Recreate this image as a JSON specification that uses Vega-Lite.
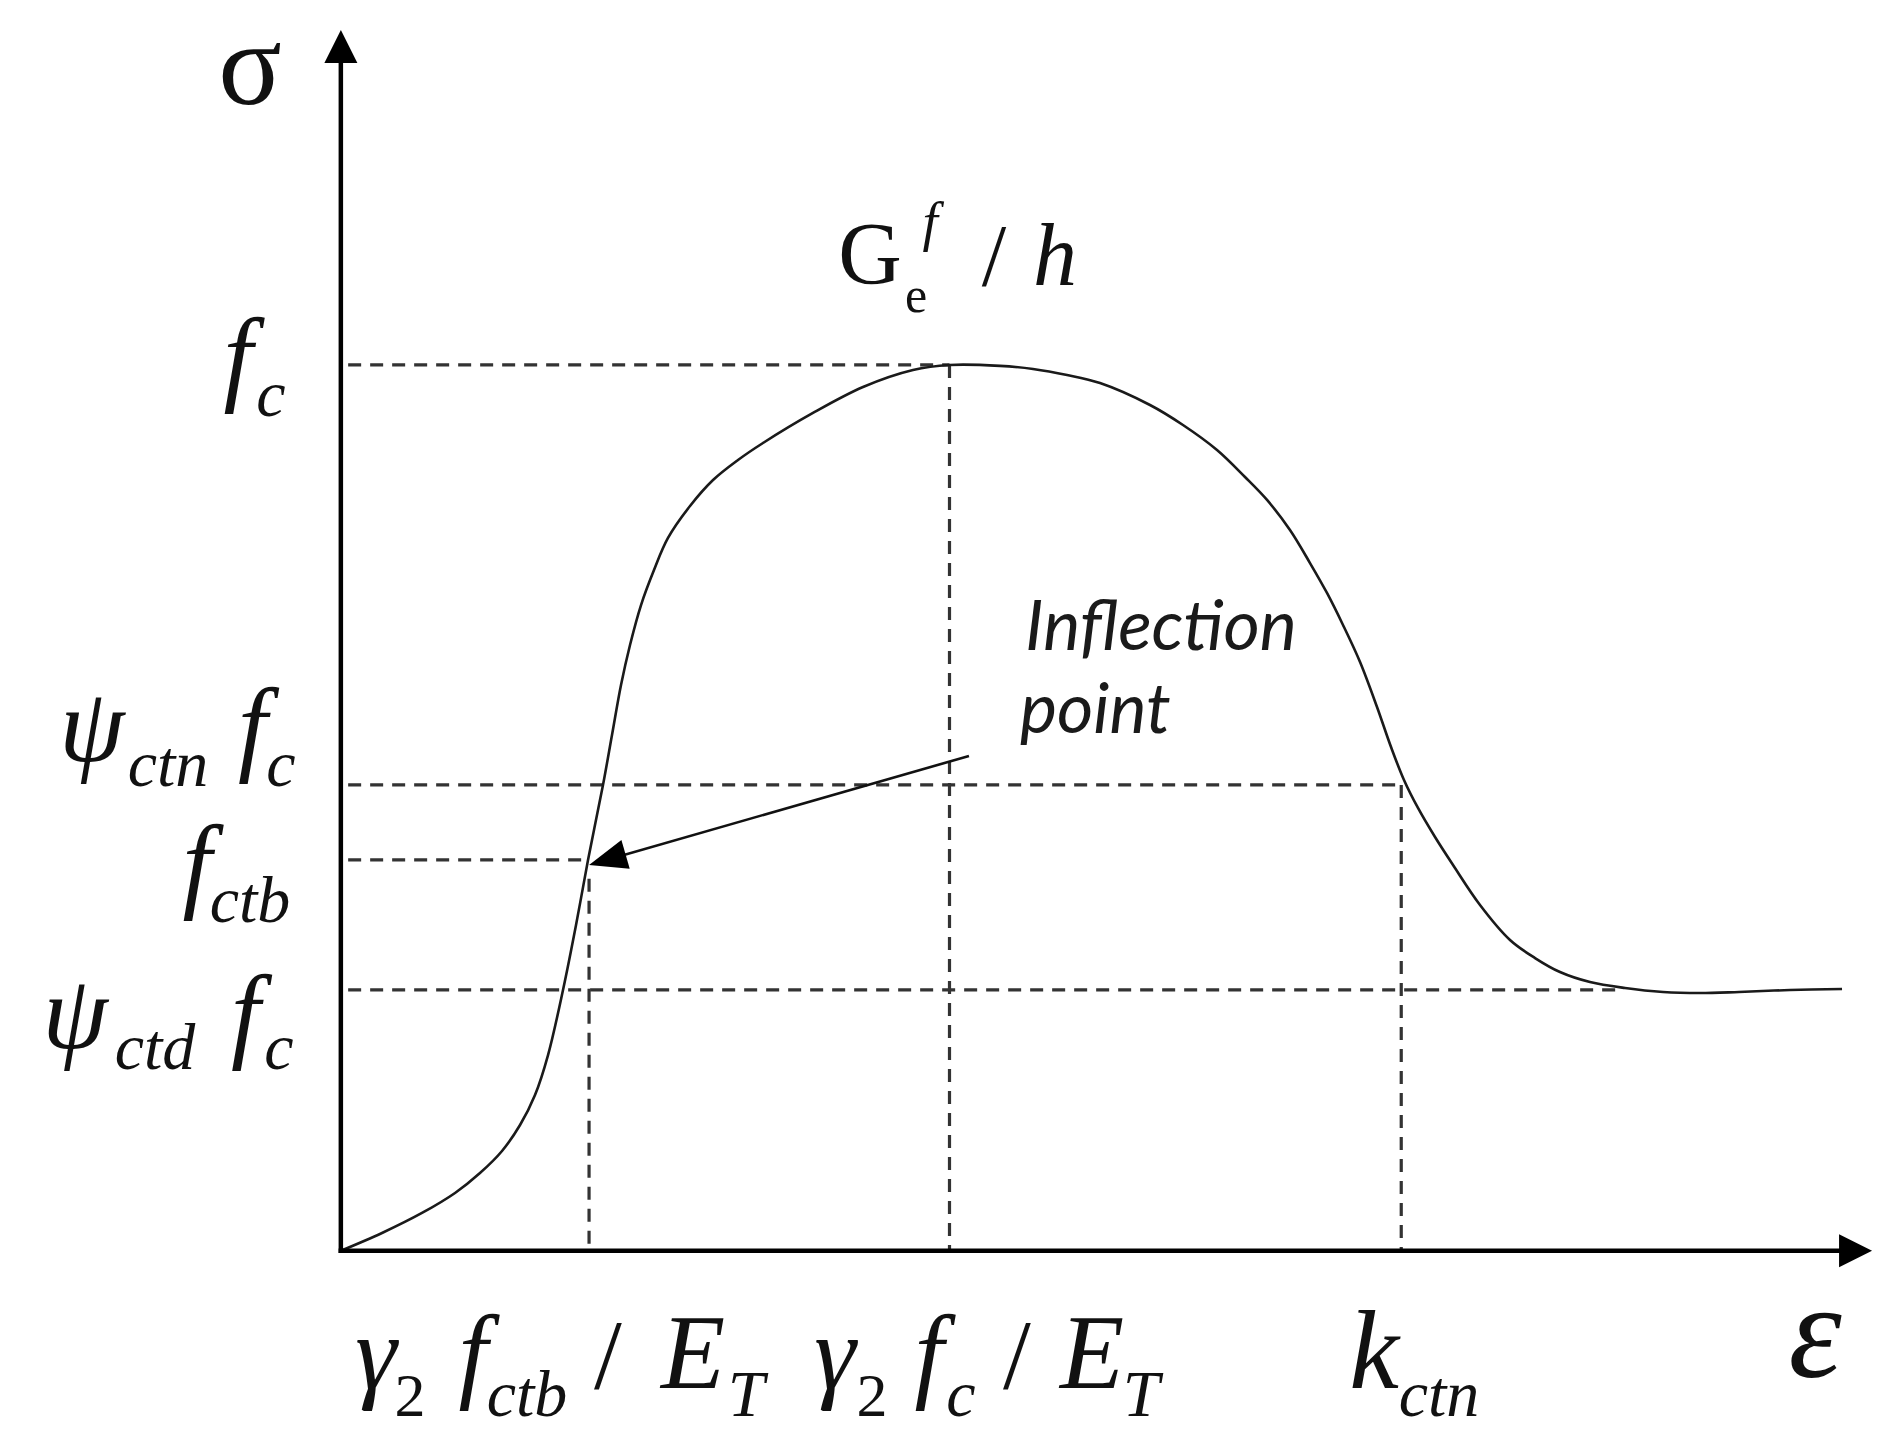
{
  "$schema": "https://vega.github.io/schema/vega-lite/v6.json",
  "width": 1899,
  "height": 1451,
  "autosize": {"type": "fit", "contains": "padding"},
  "padding": 0,
  "background": "white",
  "config": {"view": {"stroke": null}},
  "datasets": {
    "curve": [
      {"eps": 0, "sigma": 0},
      {"eps": 0.0676, "sigma": 0.0201},
      {"eps": 0.1333, "sigma": 0.0427},
      {"eps": 0.1876, "sigma": 0.0653},
      {"eps": 0.2286, "sigma": 0.0878},
      {"eps": 0.2648, "sigma": 0.1127},
      {"eps": 0.2944, "sigma": 0.142},
      {"eps": 0.319, "sigma": 0.1759},
      {"eps": 0.3404, "sigma": 0.221},
      {"eps": 0.365, "sigma": 0.2944},
      {"eps": 0.3864, "sigma": 0.3678},
      {"eps": 0.4061, "sigma": 0.4412},
      {"eps": 0.4307, "sigma": 0.5258},
      {"eps": 0.4455, "sigma": 0.5823},
      {"eps": 0.4603, "sigma": 0.6387},
      {"eps": 0.4751, "sigma": 0.6839},
      {"eps": 0.4932, "sigma": 0.729},
      {"eps": 0.5145, "sigma": 0.7685},
      {"eps": 0.5375, "sigma": 0.8047},
      {"eps": 0.5737, "sigma": 0.8408},
      {"eps": 0.6115, "sigma": 0.8701},
      {"eps": 0.6525, "sigma": 0.8927},
      {"eps": 0.6936, "sigma": 0.9119},
      {"eps": 0.7757, "sigma": 0.9458},
      {"eps": 0.8579, "sigma": 0.9751},
      {"eps": 0.94, "sigma": 0.9943},
      {"eps": 1.0, "sigma": 1.0},
      {"eps": 1.083, "sigma": 0.999},
      {"eps": 1.1372, "sigma": 0.9955},
      {"eps": 1.1931, "sigma": 0.9887},
      {"eps": 1.2473, "sigma": 0.9796},
      {"eps": 1.3294, "sigma": 0.9548},
      {"eps": 1.3836, "sigma": 0.9322},
      {"eps": 1.4395, "sigma": 0.904},
      {"eps": 1.4855, "sigma": 0.8735},
      {"eps": 1.5217, "sigma": 0.8476},
      {"eps": 1.5594, "sigma": 0.8137},
      {"eps": 1.5923, "sigma": 0.7764},
      {"eps": 1.6202, "sigma": 0.7426},
      {"eps": 1.6465, "sigma": 0.7065},
      {"eps": 1.6745, "sigma": 0.6647},
      {"eps": 1.7024, "sigma": 0.6139},
      {"eps": 1.7254, "sigma": 0.5687},
      {"eps": 1.7467, "sigma": 0.5315},
      {"eps": 1.7697, "sigma": 0.4999},
      {"eps": 1.7977, "sigma": 0.4671},
      {"eps": 1.8273, "sigma": 0.4355},
      {"eps": 1.8716, "sigma": 0.3904},
      {"eps": 1.9209, "sigma": 0.3509},
      {"eps": 1.962, "sigma": 0.3305},
      {"eps": 2.003, "sigma": 0.3147},
      {"eps": 2.0523, "sigma": 0.3034},
      {"eps": 2.1098, "sigma": 0.2967},
      {"eps": 2.1723, "sigma": 0.2922},
      {"eps": 2.2331, "sigma": 0.291},
      {"eps": 2.2971, "sigma": 0.2922},
      {"eps": 2.3809, "sigma": 0.2944},
      {"eps": 2.4664, "sigma": 0.2956}
    ],
    "guides": [
      {"eps": 0.012, "sigma": 1.0, "eps2": 1.0, "sigma2": 1.0},
      {"eps": 0.012, "sigma": 0.5259, "eps2": 1.7422, "sigma2": 0.5259},
      {"eps": 0.012, "sigma": 0.4412, "eps2": 0.4078, "sigma2": 0.4412},
      {"eps": 0.012, "sigma": 0.2945, "eps2": 2.1, "sigma2": 0.2945},
      {"eps": 0.4078, "sigma": 0.42, "eps2": 0.4078, "sigma2": 0},
      {"eps": 1.0, "sigma": 1.0, "eps2": 1.0, "sigma2": 0},
      {"eps": 1.7422, "sigma": 0.5259, "eps2": 1.7422, "sigma2": 0}
    ],
    "axes": [
      {"eps": 0, "sigma": 0, "eps2": 2.48, "sigma2": 0},
      {"eps": 0, "sigma": 0, "eps2": 0, "sigma2": 1.35}
    ],
    "pointer": [
      {"eps": 1.032, "sigma": 0.5586, "eps2": 0.4378, "sigma2": 0.4415}
    ],
    "arrowUp": [{"eps": 0, "sigma": 1.3596}],
    "arrowRight": [{"eps": 2.4886, "sigma": 0}],
    "pointerHead": [{"eps": 0.4378, "sigma": 0.4415}],
    "mathMain": [
      {"eps": -0.169, "sigma": 0.9706, "t": "f"},
      {"eps": -0.4089, "sigma": 0.5529, "t": "ψ"},
      {"eps": -0.1452, "sigma": 0.5529, "t": "f"},
      {"eps": -0.2363, "sigma": 0.3983, "t": "f"},
      {"eps": -0.4368, "sigma": 0.2289, "t": "ψ"},
      {"eps": -0.1567, "sigma": 0.2289, "t": "f"},
      {"eps": 0.0578, "sigma": -0.1549, "t": "γ"},
      {"eps": 0.2171, "sigma": -0.1549, "t": "f"},
      {"eps": 0.5786, "sigma": -0.1549, "t": "E"},
      {"eps": 0.8119, "sigma": -0.1549, "t": "γ"},
      {"eps": 0.9663, "sigma": -0.1549, "t": "f"},
      {"eps": 1.2341, "sigma": -0.1549, "t": "E"}
    ],
    "mathK": [{"eps": 1.6975, "sigma": -0.1549, "t": "k"}],
    "mathSub": [
      {"eps": -0.1148, "sigma": 0.9424, "t": "c"},
      {"eps": -0.284, "sigma": 0.5247, "t": "ctn"},
      {"eps": -0.0983, "sigma": 0.5247, "t": "c"},
      {"eps": -0.1493, "sigma": 0.3712, "t": "ctb"},
      {"eps": -0.3053, "sigma": 0.2052, "t": "ctd"},
      {"eps": -0.1016, "sigma": 0.2052, "t": "c"},
      {"eps": 0.3059, "sigma": -0.1865, "t": "ctb"},
      {"eps": 0.6657, "sigma": -0.1865, "t": "T"},
      {"eps": 1.0189, "sigma": -0.1865, "t": "c"},
      {"eps": 1.315, "sigma": -0.1865, "t": "T"},
      {"eps": 1.8043, "sigma": -0.1865, "t": "ctn"}
    ],
    "subUpright": [
      {"eps": 0.1136, "sigma": -0.1865, "t": "2"},
      {"eps": 0.8727, "sigma": -0.1865, "t": "2"}
    ],
    "slash": [
      {"eps": 0.4389, "sigma": -0.1549, "t": "/"},
      {"eps": 1.1109, "sigma": -0.1549, "t": "/"}
    ],
    "sigmaSym": [{"eps": -0.1493, "sigma": 1.2945, "t": "σ"}],
    "epsSym": [{"eps": 2.422, "sigma": -0.1425, "t": "ε"}],
    "gMain": [
      {"eps": 1.1733, "sigma": 1.0903, "t": "h"}
    ],
    "gUpright": [
      {"eps": 0.8694, "sigma": 1.0925, "t": "G"},
      {"eps": 1.0731, "sigma": 1.0903, "t": "/"}
    ],
    "gSub": [{"eps": 0.945, "sigma": 1.0598, "t": "e"}],
    "gSup": [{"eps": 0.968, "sigma": 1.1411, "t": "f"}],
    "inflection": [
      {"eps": 1.1241, "sigma": 0.6782, "t": "Inflection"},
      {"eps": 1.1158, "sigma": 0.5845, "t": "point"}
    ]
  },
  "encoding": {
    "x": {"field": "eps", "type": "quantitative", "scale": {"domain": [-0.56, 2.56], "nice": false, "zero": false}, "axis": null},
    "y": {"field": "sigma", "type": "quantitative", "scale": {"domain": [-0.226, 1.412], "nice": false, "zero": false}, "axis": null}
  },
  "layer": [
    {
      "data": {"name": "guides"},
      "mark": {"type": "rule", "stroke": "#333333", "strokeWidth": 3.2, "strokeDash": [13, 9]},
      "encoding": {"x2": {"field": "eps2"}, "y2": {"field": "sigma2"}}
    },
    {
      "data": {"name": "curve"},
      "mark": {"type": "line", "stroke": "#1a1a1a", "strokeWidth": 2.6, "interpolate": "catmull-rom"},
      "encoding": {}
    },
    {
      "data": {"name": "axes"},
      "mark": {"type": "rule", "stroke": "#000000", "strokeWidth": 4.5, "strokeCap": "square"},
      "encoding": {"x2": {"field": "eps2"}, "y2": {"field": "sigma2"}}
    },
    {
      "data": {"name": "pointer"},
      "mark": {"type": "rule", "stroke": "#111111", "strokeWidth": 2.6},
      "encoding": {"x2": {"field": "eps2"}, "y2": {"field": "sigma2"}}
    },
    {
      "data": {"name": "arrowUp"},
      "mark": {"type": "point", "shape": "M-1,1L1,1L0,-1Z", "filled": true, "size": 1089, "color": "#000000", "opacity": 1, "strokeWidth": 0}
    },
    {
      "data": {"name": "arrowRight"},
      "mark": {"type": "point", "shape": "M-1,-1L1,0L-1,1Z", "filled": true, "size": 1089, "color": "#000000", "opacity": 1, "strokeWidth": 0}
    },
    {
      "data": {"name": "pointerHead"},
      "mark": {"type": "point", "shape": "M-1,-0.79L1,0L-1,0.79Z", "filled": true, "size": 1444, "angle": 163.9, "color": "#000000", "opacity": 1, "strokeWidth": 0}
    },
    {
      "data": {"name": "mathMain"},
      "mark": {"type": "text", "font": "Liberation Serif", "fontStyle": "italic", "fontSize": 105, "align": "center", "baseline": "alphabetic", "color": "#111111"},
      "encoding": {"text": {"field": "t"}}
    },
    {
      "data": {"name": "mathK"},
      "mark": {"type": "text", "font": "Liberation Serif", "fontStyle": "italic", "fontSize": 112, "align": "center", "baseline": "alphabetic", "color": "#111111"},
      "encoding": {"text": {"field": "t"}}
    },
    {
      "data": {"name": "mathSub"},
      "mark": {"type": "text", "font": "Liberation Serif", "fontStyle": "italic", "fontSize": 66, "align": "center", "baseline": "alphabetic", "color": "#111111"},
      "encoding": {"text": {"field": "t"}}
    },
    {
      "data": {"name": "subUpright"},
      "mark": {"type": "text", "font": "Liberation Serif", "fontSize": 62, "align": "center", "baseline": "alphabetic", "color": "#111111"},
      "encoding": {"text": {"field": "t"}}
    },
    {
      "data": {"name": "slash"},
      "mark": {"type": "text", "font": "Liberation Serif", "fontSize": 100, "align": "center", "baseline": "alphabetic", "color": "#111111"},
      "encoding": {"text": {"field": "t"}}
    },
    {
      "data": {"name": "sigmaSym"},
      "mark": {"type": "text", "font": "Liberation Serif", "fontSize": 118, "align": "center", "baseline": "alphabetic", "color": "#111111"},
      "encoding": {"text": {"field": "t"}}
    },
    {
      "data": {"name": "epsSym"},
      "mark": {"type": "text", "font": "Liberation Serif", "fontStyle": "italic", "fontSize": 135, "align": "center", "baseline": "alphabetic", "color": "#111111"},
      "encoding": {"text": {"field": "t"}}
    },
    {
      "data": {"name": "gMain"},
      "mark": {"type": "text", "font": "Liberation Serif", "fontStyle": "italic", "fontSize": 88, "align": "center", "baseline": "alphabetic", "color": "#111111"},
      "encoding": {"text": {"field": "t"}}
    },
    {
      "data": {"name": "gUpright"},
      "mark": {"type": "text", "font": "Liberation Serif", "fontSize": 88, "align": "center", "baseline": "alphabetic", "color": "#111111"},
      "encoding": {"text": {"field": "t"}}
    },
    {
      "data": {"name": "gSub"},
      "mark": {"type": "text", "font": "Liberation Serif", "fontSize": 50, "align": "center", "baseline": "alphabetic", "color": "#111111"},
      "encoding": {"text": {"field": "t"}}
    },
    {
      "data": {"name": "gSup"},
      "mark": {"type": "text", "font": "Liberation Serif", "fontStyle": "italic", "fontSize": 55, "align": "center", "baseline": "alphabetic", "color": "#111111"},
      "encoding": {"text": {"field": "t"}}
    },
    {
      "data": {"name": "inflection"},
      "mark": {"type": "text", "font": "Lato", "fontStyle": "italic", "fontSize": 70, "align": "left", "baseline": "alphabetic", "color": "#1a1a1a"},
      "encoding": {"text": {"field": "t"}}
    }
  ]
}
